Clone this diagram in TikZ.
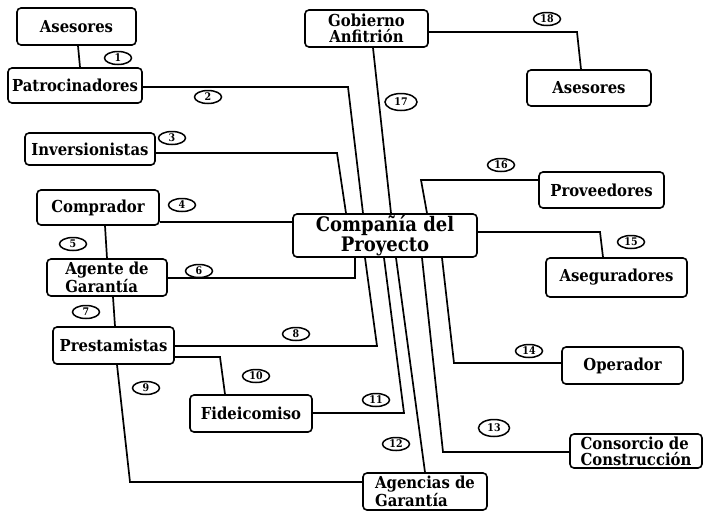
\documentclass[tikz,border=0pt]{standalone}
\usepackage{fontspec}
\setmainfont{DejaVu Serif Condensed}
\usetikzlibrary{shapes.geometric}
\begin{document}
\begin{tikzpicture}[x=1pt,y=-1pt,
  box/.style={draw, fill=white, line width=1.6pt, rounded corners=4pt, inner sep=0pt, font=\bfseries\fontsize{16.5}{16}\selectfont},
  lbl/.style={draw, fill=white, ellipse, line width=1.5pt, inner sep=0pt, minimum width=27pt, minimum height=13pt, font=\bfseries\fontsize{10.5}{10}\selectfont},
  conn/.style={line width=1.7pt, line join=miter}]
\useasboundingbox (0,0) rectangle (703,512);
\fill[white] (0,0) rectangle (703,512);

% nodes
\node[box, minimum width=119pt, minimum height=37pt] (ase1) at (76.5,26.5) {Asesores};
\node[box, minimum width=134pt, minimum height=35pt] (pat) at (75,85.5) {Patrocinadores};
\node[box, minimum width=130pt, minimum height=32pt] (inv) at (90,149) {Inversionistas};
\node[box, minimum width=122pt, minimum height=35pt] (com) at (98,207.5) {Comprador};
\node[box, minimum width=120pt, minimum height=37pt, align=left] (age) at (107,277.5) {Agente de\\Garantía};
\node[box, minimum width=121pt, minimum height=37pt] (pre) at (113.5,345.5) {Prestamistas};
\node[box, minimum width=122pt, minimum height=37pt] (fid) at (251,413.5) {Fideicomiso};
\node[box, minimum width=124pt, minimum height=37pt, align=left] (agen) at (425,491.5) {Agencias de\\Garantía};
\node[box, minimum width=184pt, minimum height=43pt, align=center, font=\bfseries\fontsize{20}{18.5}\selectfont] (cp) at (385,235.5) {Compañía del\\Proyecto};
\node[box, minimum width=123pt, minimum height=37pt, align=center] (gob) at (366.5,28.5) {Gobierno\\Anfitrión};
\node[box, minimum width=124pt, minimum height=36pt] (ase2) at (589,88) {Asesores};
\node[box, minimum width=125pt, minimum height=36pt] (prov) at (601.5,190) {Proveedores};
\node[box, minimum width=141pt, minimum height=39pt] (aseg) at (616.5,277.5) {Aseguradores};
\node[box, minimum width=121pt, minimum height=37pt] (ope) at (622.5,365.5) {Operador};
\node[box, minimum width=132pt, minimum height=34pt, align=left] (cons) at (636,451) {Consorcio de\\Construcción};

% corner coordinates
\coordinate (k2) at (348,87);
\coordinate (k3) at (337,153);
\coordinate (k6) at (355,278);
\coordinate (k8) at (377,346);
\coordinate (k9) at (130,482);
\coordinate (k10) at (220,357);
\coordinate (k11) at (404,413);
\coordinate (k13) at (443,452);
\coordinate (k14) at (454,363);
\coordinate (k15) at (600,232);
\coordinate (k16) at (421,180);
\coordinate (k18) at (577,32);

% connectors
\draw[conn] (78,0 |- ase1.south) -- (80,0 |- pat.north);
\draw[conn] (pat.east |- k2) -- (k2) -- (363,0 |- cp.north);
\draw[conn] (inv.east |- k3) -- (k3) -- (346,0 |- cp.north);
\draw[conn] (com.east |- 0,222) -- (cp.west |- 0,222);
\draw[conn] (105,0 |- com.south) -- (107,0 |- age.north);
\draw[conn] (age.east |- k6) -- (k6) -- (k6 |- cp.south);
\draw[conn] (113,0 |- age.south) -- (115,0 |- pre.north);
\draw[conn] (pre.east |- k8) -- (k8) -- (365,0 |- cp.south);
\draw[conn] (117,0 |- pre.south) -- (k9) -- (agen.west |- k9);
\draw[conn] (pre.east |- k10) -- (k10) -- (225,0 |- fid.north);
\draw[conn] (fid.east |- k11) -- (k11) -- (384,0 |- cp.south);
\draw[conn] (396,0 |- cp.south) -- (425,0 |- agen.north);
\draw[conn] (422,0 |- cp.south) -- (k13) -- (cons.west |- k13);
\draw[conn] (442,0 |- cp.south) -- (k14) -- (ope.west |- k14);
\draw[conn] (cp.east |- k15) -- (k15) -- (603,0 |- aseg.north);
\draw[conn] (427,0 |- cp.north) -- (k16) -- (prov.west |- k16);
\draw[conn] (373,0 |- gob.south) -- (391,0 |- cp.north);
\draw[conn] (gob.east |- k18) -- (k18) -- (581,0 |- ase2.north);

% labels
\node[lbl] (n1) at (118,58) {1};
\node[lbl] (n2) at (208,97) {2};
\node[lbl] (n3) at (172,138) {3};
\node[lbl] (n4) at (182,205) {4};
\node[lbl] (n5) at (73,244) {5};
\node[lbl] (n6) at (199,271) {6};
\node[lbl] (n7) at (86,312) {7};
\node[lbl] (n8) at (296,334) {8};
\node[lbl] (n9) at (146,388) {9};
\node[lbl] (n10) at (256,376) {10};
\node[lbl] (n11) at (376,400) {11};
\node[lbl] (n12) at (396,444) {12};
\node[lbl, minimum width=31pt, minimum height=17pt] (n13) at (494,428) {13};
\node[lbl] (n14) at (529,351) {14};
\node[lbl] (n15) at (631,242) {15};
\node[lbl] (n16) at (501,165) {16};
\node[lbl, minimum width=32pt, minimum height=17pt] (n17) at (401,102) {17};
\node[lbl] (n18) at (547,19) {18};
\end{tikzpicture}
\end{document}
